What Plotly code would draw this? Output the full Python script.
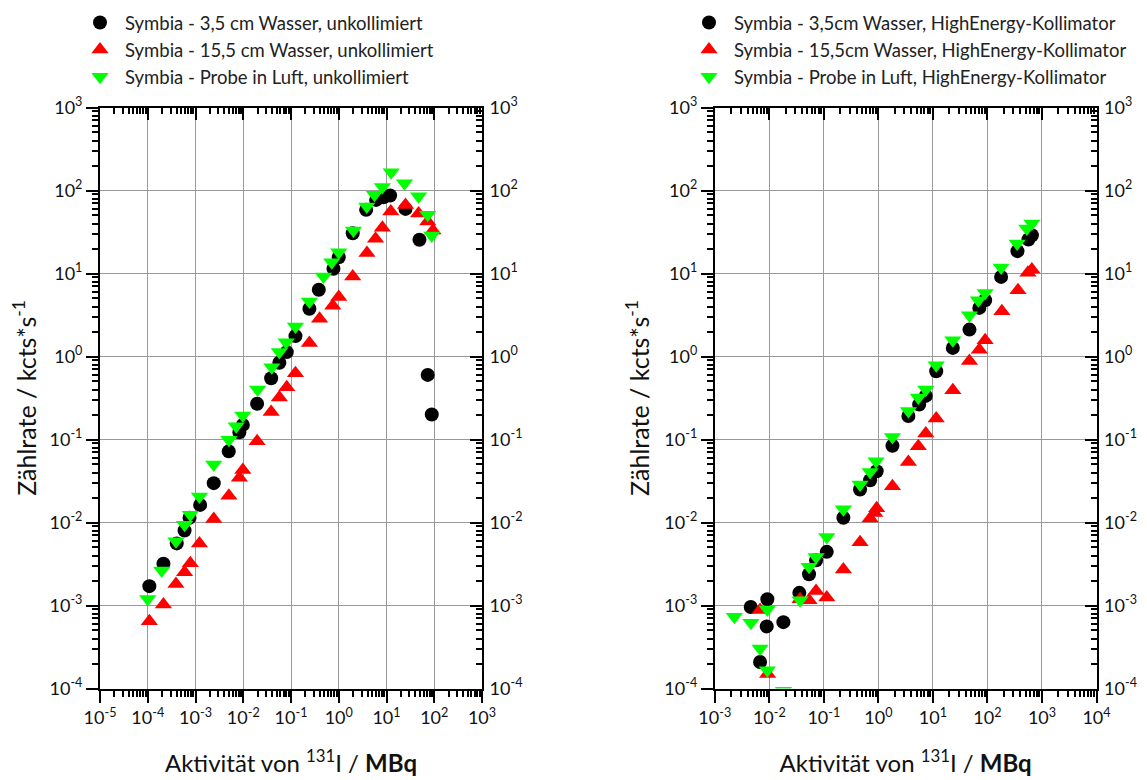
import plotly.graph_objects as go

# ---------------- data ----------------
# Left panel: unkollimiert
black_L_x = [1.08e-4, 2.13e-4, 4.05e-4, 5.9e-4, 7.5e-4, 1.25e-3, 2.41e-3, 4.97e-3, 8.3e-3, 9.8e-3,
             1.95e-2, 3.84e-2, 5.7e-2, 8.15e-2, 0.124, 0.243, 0.382, 0.775, 1.0, 1.96,
             3.75, 6.07, 8.6, 11.9, 25, 49, 73, 88.7]
black_L_y = [1.71e-3, 3.18e-3, 5.6e-3, 8.0e-3, 1.14e-2, 1.63e-2, 2.98e-2, 7.2e-2, 0.122, 0.15,
             0.27, 0.548, 0.84, 1.13, 1.76, 3.76, 6.37, 11.4, 15.7, 30.6,
             58.5, 77, 83, 87, 60, 25.5, 0.6, 0.2]

red_L_x = [1.08e-4, 2.13e-4, 3.9e-4, 5.9e-4, 7.8e-4, 1.21e-3, 2.41e-3, 5.0e-3, 8.3e-3, 9.8e-3,
           1.95e-2, 3.84e-2, 5.7e-2, 8.15e-2, 0.124, 0.243, 0.397, 0.75, 1.0, 1.96,
           3.9, 5.9, 8.2, 12.3, 25, 47, 73, 94]
red_L_y = [6.47e-4, 1.03e-3, 1.82e-3, 2.52e-3, 3.23e-3, 5.6e-3, 1.1e-2, 2.1e-2, 3.45e-2, 4.3e-2,
           9.5e-2, 0.215, 0.32, 0.426, 0.63, 1.45, 2.84, 4.1, 5.2, 9.2,
           17.6, 26.2, 35.5, 56, 67, 53, 42.4, 33]

green_L_x = [1.0e-4, 1.96e-4, 3.9e-4, 5.9e-4, 7.8e-4, 1.21e-3, 2.41e-3, 5.0e-3, 7.1e-3, 9.8e-3,
             2.0e-2, 3.96e-2, 5.7e-2, 7.9e-2, 0.124, 0.243, 0.479, 0.713, 1.0, 2.03,
             3.86, 5.6, 8.2, 12.5, 23.8, 47, 73, 88.7]
green_L_y = [1.2e-3, 2.64e-3, 5.95e-3, 9.4e-3, 1.24e-2, 2.06e-2, 5.0e-2, 9.9e-2, 0.144, 0.195,
             0.4, 0.74, 1.13, 1.49, 2.3, 4.6, 9.2, 13.7, 18, 33,
             64, 88.7, 110, 166, 122, 85, 51, 28.7]

# Right panel: HighEnergy-Kollimator
black_R_x = [4.56e-3, 6.76e-3, 8.96e-3, 9.2e-3, 1.81e-2, 3.55e-2, 5.35e-2, 7.2e-2, 0.113, 0.228,
             0.461, 0.705, 0.93, 1.81, 3.55, 5.6, 7.4, 11.5, 23.2, 46.8,
             71, 90.7, 178, 355, 565, 653]
black_R_y = [9.6e-4, 2.09e-4, 5.6e-4, 1.19e-3, 6.3e-4, 1.42e-3, 2.38e-3, 3.5e-3, 4.43e-3, 1.14e-2,
             2.5e-2, 3.23e-2, 4.15e-2, 8.4e-2, 0.192, 0.264, 0.335, 0.665, 1.27, 2.11,
             3.85, 4.77, 9.1, 18.6, 25.7, 28.9]

red_R_x = [6.76e-3, 9.3e-3, 3.66e-2, 5.35e-2, 7.2e-2, 0.113, 0.228, 0.461, 0.705, 0.86,
           0.93, 1.81, 3.55, 5.4, 7.4, 11.5, 23.2, 46.8, 71, 90.7,
           184, 363, 552, 652]
red_R_y = [8.8e-4, 1.5e-4, 1.19e-3, 1.16e-3, 1.5e-3, 1.25e-3, 2.72e-3, 5.8e-3, 1.12e-2, 1.3e-2,
           1.48e-2, 2.74e-2, 5.37e-2, 8.3e-2, 0.118, 0.179, 0.393, 0.885, 1.21, 1.57,
           3.5, 6.3, 10.2, 11.2]

green_R_x = [2.28e-3, 4.6e-3, 6.76e-3, 9.2e-3, 9.2e-3, 1.82e-2, 3.66e-2, 5.35e-2, 7.2e-2, 0.113,
             0.228, 0.461, 0.705, 0.907, 1.81, 3.55, 5.4, 7.4, 11.5, 23.2,
             46.8, 68, 90.7, 178, 350, 528, 653]
green_R_y = [7.3e-4, 6.2e-4, 3.03e-4, 1.66e-4, 8.95e-4, 9.4e-5, 1.16e-3, 2.92e-3, 3.85e-3, 6.7e-3,
             1.44e-2, 2.87e-2, 4.07e-2, 5.48e-2, 0.107, 0.221, 0.32, 0.4, 0.785, 1.57,
             3.15, 4.77, 5.84, 11.8, 23, 34.8, 40]

names_L = ["Symbia - 3,5 cm Wasser, unkollimiert",
           "Symbia - 15,5 cm Wasser, unkollimiert",
           "Symbia - Probe in Luft, unkollimiert"]
names_R = ["Symbia - 3,5cm Wasser, HighEnergy-Kollimator",
           "Symbia - 15,5cm Wasser, HighEnergy-Kollimator",
           "Symbia - Probe in Luft, HighEnergy-Kollimator"]

xL_exp = list(range(-5, 4))
xR_exp = list(range(-3, 5))
y_exp = list(range(-4, 4))

FONT = "Lato"
COL = ["#000000", "#ff0000", "#00ff00"]
SYM = ["circle", "triangle-up", "triangle-down"]
SIZE = [14, 15, 15]


def sup_labels(exps):
    return [f"10<sup>{e}</sup>" for e in exps]


def minor_vals(exps):
    out = []
    for e in exps[:-1]:
        for m in range(2, 10):
            out.append(m * 10.0 ** e)
    return out


fig = go.Figure()

left = [(black_L_x, black_L_y), (red_L_x, red_L_y), (green_L_x, green_L_y)]
right = [(black_R_x, black_R_y), (red_R_x, red_R_y), (green_R_x, green_R_y)]

for i, (xs, ys) in enumerate(left):
    fig.add_trace(go.Scatter(x=xs, y=ys, mode="markers", name=names_L[i],
                             xaxis="x", yaxis="y", legend="legend", legendgroup=f"L{i}",
                             marker=dict(symbol=SYM[i], color=COL[i], size=SIZE[i], line=dict(width=0))))
for i, (xs, ys) in enumerate(right):
    fig.add_trace(go.Scatter(x=xs, y=ys, mode="markers", name=names_R[i],
                             xaxis="x3", yaxis="y3", legend="legend2", legendgroup=f"R{i}",
                             marker=dict(symbol=SYM[i], color=COL[i], size=SIZE[i], line=dict(width=0))))

# invisible helper traces so mirror axes are drawn
for xa, ya in [("x2", "y2"), ("x4", "y4")]:
    fig.add_trace(go.Scatter(x=[None], y=[None], xaxis=xa, yaxis=ya, showlegend=False,
                             hoverinfo="skip", mode="markers"))

# page body has an 8px margin: figure px = screen px - 8
W, H = 1139, 772
OFF = 8
domL = [(100 - OFF) / W, (482 - OFF) / W]
domR = [(714.8 - OFF) / W, (1096.5 - OFF) / W]
domY = [(H - (688.5 - OFF)) / H, (H - (107.5 - OFF)) / H]

tickfont = dict(family=FONT, size=18, color="#111")
xtitlefont = dict(family=FONT, size=24, color="#111")
ytitlefont = dict(family=FONT, size=25, color="#111")


def xaxis_main(dom, exps, anchor):
    return dict(domain=dom, type="log", range=[exps[0], exps[-1]], anchor=anchor,
                automargin=False,
                showline=True, linecolor="#000", linewidth=2, mirror=False,
                ticks="outside", ticklen=12, tickwidth=2, tickcolor="#000",
                tickvals=[10.0 ** e for e in exps], ticktext=sup_labels(exps),
                tickfont=tickfont, showgrid=True, gridcolor="#999999", gridwidth=1,
                zeroline=False,
                minor=dict(ticks="outside", ticklen=6, tickwidth=2, tickcolor="#000",
                           tickvals=minor_vals(exps), showgrid=False),
                title=dict(text="Aktivität von <sup>131</sup>I / <b>MBq</b>", font=xtitlefont, standoff=28))


def xaxis_top(dom, exps, anchor, over):
    return dict(domain=dom, type="log", range=[exps[0], exps[-1]], anchor=anchor, overlaying=over,
                automargin=False,
                side="top", showline=True, linecolor="#000", linewidth=2,
                ticks="inside", ticklen=12, tickwidth=2, tickcolor="#000",
                tickvals=[10.0 ** e for e in exps], showticklabels=False, showgrid=False,
                zeroline=False,
                minor=dict(ticks="inside", ticklen=6, tickwidth=2, tickcolor="#000",
                           tickvals=minor_vals(exps), showgrid=False))


def yaxis_main(anchor):
    return dict(domain=domY, type="log", range=[y_exp[0], y_exp[-1]], anchor=anchor,
                automargin=False,
                showline=True, linecolor="#000", linewidth=2,
                ticks="outside", ticklen=12, tickwidth=2, tickcolor="#000",
                tickvals=[10.0 ** e for e in y_exp], ticktext=sup_labels(y_exp),
                tickfont=tickfont, showgrid=True, gridcolor="#999999", gridwidth=1,
                zeroline=False,
                minor=dict(ticks="outside", ticklen=6, tickwidth=2, tickcolor="#000",
                           tickvals=minor_vals(y_exp), showgrid=False),
                title=dict(text="Zählrate / kcts*s<sup>-1</sup>", font=ytitlefont, standoff=8))


def yaxis_right(anchor, over):
    return dict(domain=domY, type="log", range=[y_exp[0], y_exp[-1]], anchor=anchor, overlaying=over,
                automargin=False,
                side="right", showline=True, linecolor="#000", linewidth=2,
                ticks="inside", ticklen=12, tickwidth=2, tickcolor="#000",
                tickvals=[10.0 ** e for e in y_exp], ticktext=sup_labels(y_exp),
                tickfont=tickfont, ticklabelstandoff=2, showgrid=False, zeroline=False,
                minor=dict(ticks="inside", ticklen=6, tickwidth=2, tickcolor="#000",
                           tickvals=minor_vals(y_exp), showgrid=False))


legfont = dict(family=FONT, size=18.5, color="#222")

fig.update_layout(
    width=W, height=H,
    margin=dict(l=0, r=0, t=0, b=0, autoexpand=False),
    paper_bgcolor="white", plot_bgcolor="white",
    font=dict(family=FONT, color="#000"),
    xaxis=xaxis_main(domL, xL_exp, "y"),
    xaxis2=xaxis_top(domL, xL_exp, "y", "x"),
    yaxis=yaxis_main("x"),
    yaxis2=yaxis_right("x", "y"),
    xaxis3=xaxis_main(domR, xR_exp, "y3"),
    xaxis4=xaxis_top(domR, xR_exp, "y3", "x3"),
    yaxis3=yaxis_main("x3"),
    yaxis4=yaxis_right("x3", "y3"),
    legend=dict(x=(75 - OFF) / W, y=1 + (OFF - 4) / H, xanchor="left", yanchor="top", font=legfont,
                bgcolor="rgba(0,0,0,0)", tracegroupgap=0, itemwidth=40),
    legend2=dict(x=(684 - OFF) / W, y=1 + (OFF - 4) / H, xanchor="left", yanchor="top", font=legfont,
                 bgcolor="rgba(0,0,0,0)", tracegroupgap=0, itemwidth=40),
    showlegend=True,
)

fig.write_html("out.html")
